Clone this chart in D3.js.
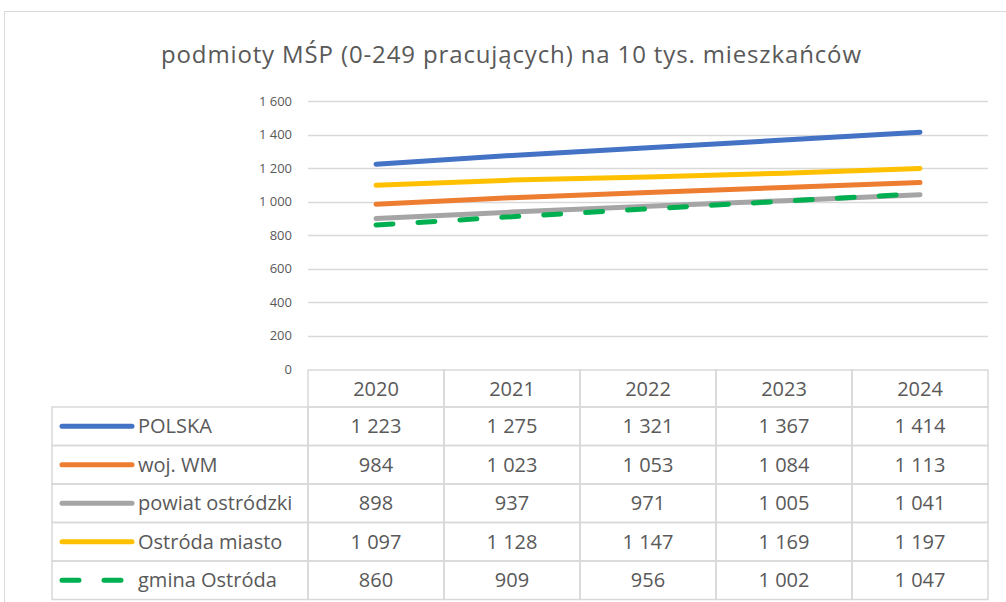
<!DOCTYPE html>
<html>
<head>
<meta charset="utf-8">
<title>podmioty MŚP</title>
<script src="https://d3js.org/d3.v7.min.js"></script>
<style>
  body { margin: 0; background: #fff; }
  text { font-family: "Open Sans", "Noto Sans", sans-serif; fill: #595959; }
</style>
</head>
<body>
<div id="chart"></div>
<script>

// data
const years = ["2020", "2021", "2022", "2023", "2024"];
const seriesNames = ["POLSKA", "woj. WM", "powiat ostródzki", "Ostróda miasto", "gmina Ostróda"];
const polska = [1223, 1275, 1321, 1367, 1414];
const wojWM = [984, 1023, 1053, 1084, 1113];
const powiat = [898, 937, 971, 1005, 1041];
const ostrodaMiasto = [1097, 1128, 1147, 1169, 1197];
const gminaOstroda = [860, 909, 956, 1002, 1047];
const yTicks = [0, 200, 400, 600, 800, 1000, 1200, 1400, 1600];

const colours = ["#4472C4", "#ED7D31", "#A5A5A5", "#FFC000", "#00B050"];
const dashes = [null, null, null, null, "17,25"];

const series = [polska, wojWM, powiat, ostrodaMiasto, gminaOstroda].map(function(v, i) {
  return { name: seriesNames[i], values: v, colour: colours[i], dash: dashes[i] };
});

const W = 1006, H = 602;
const plot = { left: 308, right: 988, top: 101, bottom: 369 };
const table = { left: 52, headTop: 370, rowTop: 407, rowH: 38.5 };

const pl = d3.formatLocale({ decimal: ",", thousands: "\u00a0", grouping: [3], currency: ["", " zł"] });
const fmt = pl.format(",d");

const svg = d3.select("#chart").append("svg")
  .attr("width", W)
  .attr("height", H);

// chart border
svg.append("rect")
  .attr("x", 4.5).attr("y", 11.5)
  .attr("width", 1010).attr("height", 600)
  .attr("fill", "none")
  .attr("stroke", "#d9d9d9");

// title
svg.append("text")
  .attr("x", 511)
  .attr("y", 63)
  .attr("text-anchor", "middle")
  .attr("textLength", 700)
  .attr("lengthAdjust", "spacing")
  .style("font-size", "24px")
  .text("podmioty MŚP (0-249 pracujących) na 10 tys. mieszkańców");

var x = d3.scaleBand()
  .domain(years)
  .range([plot.left, plot.right]);

var y = d3.scaleLinear()
  .domain([0, 1600])
  .range([plot.bottom, plot.top]);

// gridlines
svg.append("g")
  .selectAll("line")
  .data(yTicks.filter(function(d) { return d > 0; }))
  .enter().append("line")
    .attr("x1", plot.left).attr("x2", plot.right)
    .attr("y1", function(d) { return Math.round(y(d)) + 0.5; })
    .attr("y2", function(d) { return Math.round(y(d)) + 0.5; })
    .attr("stroke", "#d9d9d9")
    .attr("stroke-width", 1.3);

// y axis labels
var yAxis = svg.append("g")
  .attr("transform", "translate(" + plot.left + ",0)")
  .call(d3.axisLeft(y).tickValues(yTicks).tickFormat(fmt).tickSize(0).tickPadding(16));
yAxis.select(".domain").remove();
yAxis.selectAll("text")
  .style("font-size", "13px")
  .style("font-family", "'Open Sans', sans-serif")
  .attr("fill", "#595959");

// lines
var line = d3.line()
  .x(function(d, i) { return x(years[i]) + x.bandwidth() / 2; })
  .y(function(d) { return y(d); });

svg.append("g")
  .selectAll("path")
  .data(series)
  .enter().append("path")
    .attr("d", function(d) { return line(d.values); })
    .attr("fill", "none")
    .attr("stroke", function(d) { return d.colour; })
    .attr("stroke-width", 5)
    .attr("stroke-linecap", "round")
    .attr("stroke-dasharray", function(d) { return d.dash; });

// data table
var tb = svg.append("g");

// header cells
years.forEach(function(yr) {
  tb.append("rect")
    .attr("x", x(yr)).attr("y", table.headTop)
    .attr("width", x.bandwidth()).attr("height", table.rowTop - table.headTop)
    .attr("fill", "none").attr("stroke", "#d9d9d9").attr("stroke-width", 1.5);
  tb.append("text")
    .attr("x", x(yr) + x.bandwidth() / 2)
    .attr("y", (table.headTop + table.rowTop) / 2)
    .attr("dy", "0.35em")
    .attr("text-anchor", "middle")
    .style("font-size", "20px")
    .text(yr);
});

series.forEach(function(s, r) {
  var top = table.rowTop + r * table.rowH;
  var mid = top + table.rowH / 2;
  tb.append("rect")
    .attr("x", table.left).attr("y", top)
    .attr("width", plot.left - table.left).attr("height", table.rowH)
    .attr("fill", "none").attr("stroke", "#d9d9d9").attr("stroke-width", 1.5);
  tb.append("line")
    .attr("x1", 62).attr("x2", 132)
    .attr("y1", mid).attr("y2", mid)
    .attr("stroke", s.colour)
    .attr("stroke-width", 5)
    .attr("stroke-linecap", "round")
    .attr("stroke-dasharray", s.dash ? "17,25" : null);
  tb.append("text")
    .attr("x", 138).attr("y", mid)
    .attr("dy", "0.35em")
    .style("font-size", "20px")
    .text(s.name);
  s.values.forEach(function(v, i) {
    tb.append("rect")
      .attr("x", x(years[i])).attr("y", top)
      .attr("width", x.bandwidth()).attr("height", table.rowH)
      .attr("fill", "none").attr("stroke", "#d9d9d9").attr("stroke-width", 1.5);
    tb.append("text")
      .attr("x", x(years[i]) + x.bandwidth() / 2)
      .attr("y", mid)
      .attr("dy", "0.35em")
      .attr("text-anchor", "middle")
      .style("font-size", "20px")
      .text(fmt(v));
  });
});

</script>
</body>
</html>
